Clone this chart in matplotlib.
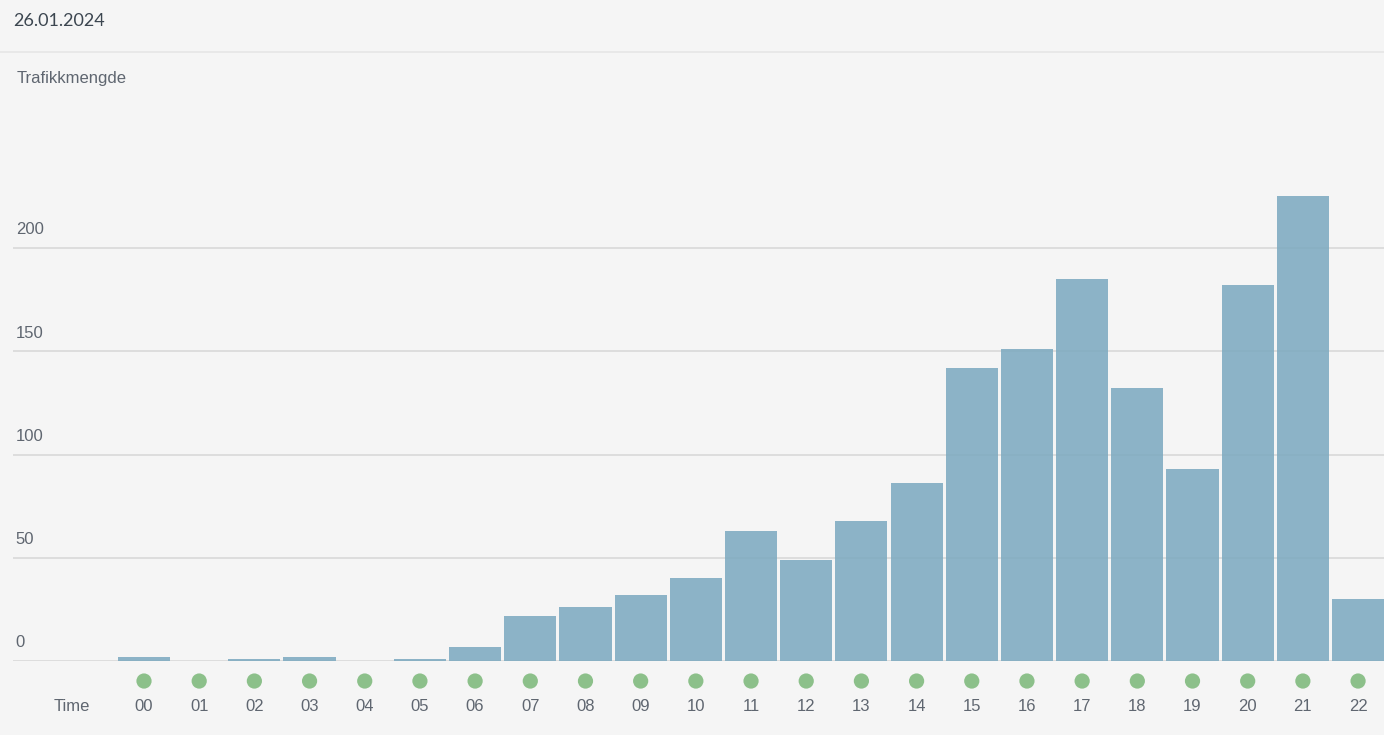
import numpy as np
import matplotlib.pyplot as plt
from matplotlib.transforms import blended_transform_factory

# Data
hours = ['00', '01', '02', '03', '04', '05', '06', '07', '08', '09', '10', '11',
         '12', '13', '14', '15', '16', '17', '18', '19', '20', '21', '22']
traffic = [2, 0, 1, 2, 0, 1, 7, 22, 26, 32, 40, 63,
           49, 68, 86, 142, 151, 185, 132, 93, 182, 225, 30]
yticks = [0, 50, 100, 150, 200]

W, H = 1384, 735
BG = '#f5f5f5'
TXT = '#5f6670'
FS = 12

fig = plt.figure(figsize=(W / 100, H / 100), dpi=100, facecolor=BG)

# Axes placed so that value 0 sits at y=661 px and hours are 55.18 px apart
ax = fig.add_axes([13 / W, 1 - 661 / H, (W - 13) / W, 495.6 / H])
ax.set_facecolor(BG)
ax.set_xlim(-2.374, 22.47)
ax.set_ylim(0, 240)
for s in ax.spines.values():
    s.set_visible(False)
ax.set_xticks([])
ax.set_yticks([])

x = np.arange(len(hours))

# Gridlines
for v in yticks:
    ax.axhline(v, color='#d9d9d9', lw=1.2, zorder=1)

ax.bar(x, traffic, width=0.945, color='#7aa8bf', alpha=0.85, edgecolor='none', zorder=2)

# Y tick labels, left aligned above the gridlines
tr = blended_transform_factory(ax.transAxes, ax.transData)
for v in yticks:
    ax.text(0.002, v + 8.8, str(v), transform=tr, ha='left', va='center',
            fontsize=FS, color=TXT, family='Liberation Sans')

# Green dots and hour labels under the bars
ax.scatter(x, np.full(len(x), -9.7), s=120, color='#8cc08a', clip_on=False,
           edgecolor='none', zorder=3)
for i, h in enumerate(hours):
    ax.text(i, -22.0, h, ha='center', va='center', fontsize=FS, color=TXT,
            family='Liberation Sans', clip_on=False)
ax.text(-1.30, -22.0, 'Time', ha='center', va='center', fontsize=FS, color=TXT,
        family='Liberation Sans', clip_on=False)

# Header
fig.text(13 / W, 1 - 21 / H, '26.01.2024', ha='left', va='center', fontsize=13,
         color='#3c4650', family='Lato')
fig.add_artist(plt.Line2D([0, 1], [1 - 52 / H, 1 - 52 / H], color='#e6e6e6', lw=1.2))
fig.text(17 / W, 1 - 79 / H, 'Trafikkmengde', ha='left', va='center', fontsize=FS,
         color=TXT, family='Liberation Sans')

fig.savefig('out.png', dpi=100, facecolor=BG)
